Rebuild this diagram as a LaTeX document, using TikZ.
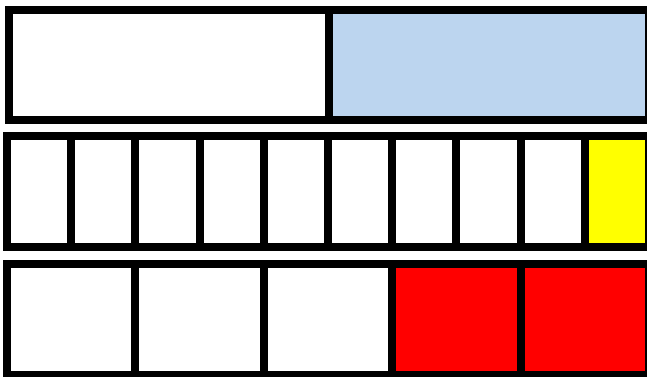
\documentclass[tikz,border=0pt]{standalone}
\usepackage{tikz}
\usetikzlibrary{positioning}
\definecolor{PaleBlue}{HTML}{BCD5EF}
\definecolor{BrightYellow}{HTML}{FFFF00}
\definecolor{BrightRed}{HTML}{FF0000}

\begin{document}
\begin{tikzpicture}[x=0.5pt,y=-0.5pt,
  cell/.style={draw=black,line width=4pt,inner sep=0pt,outer sep=0pt,anchor=north west},
  half/.style={cell,minimum width=160pt,minimum height=55pt},
  tenth/.style={cell,minimum width=32.1pt,minimum height=55.5pt},
  fifth/.style={cell,minimum width=64.2pt,minimum height=55.5pt}]
  \path[use as bounding box,clip] (0,0) rectangle (647,376);
  \fill[white] (0,0) rectangle (647,376);
  % top bar: one half shaded
  \node[half] (half1) at (9,10) {};
  \node[half,fill=PaleBlue,right=0pt of half1] (half2) {};
  % middle bar: ten tenths, last one yellow
  \foreach \i/\col in {1/white,2/white,3/white,4/white,5/white,6/white,7/white,8/white,9/white,10/BrightYellow}{
    \node[tenth,fill=\col] (tenth\i) at ({7+64.2*(\i-1)},136) {};
  }
  % bottom bar: five fifths, last two red
  \foreach \i/\col in {1/white,2/white,3/white,4/BrightRed,5/BrightRed}{
    \node[fifth,fill=\col] (fifth\i) at ({7+128.4*(\i-1)},264) {};
  }
\end{tikzpicture}
\end{document}
